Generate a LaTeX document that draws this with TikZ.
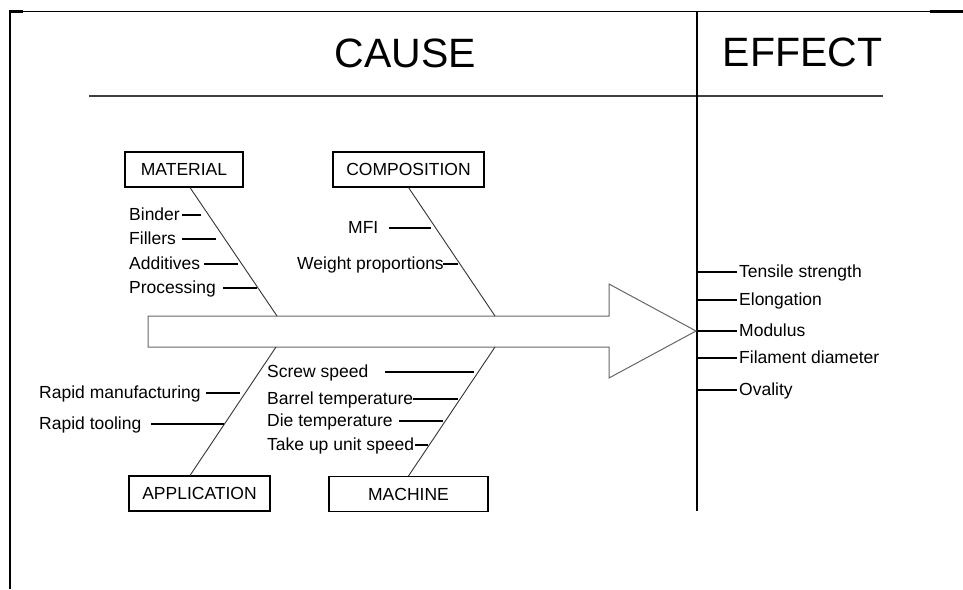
\documentclass[tikz,border=0pt]{standalone}
\usepackage{fontspec}
\setmainfont{Liberation Sans}

\begin{document}
\begin{tikzpicture}[x=1pt,y=-1pt,
		lbl/.style={anchor=west,inner sep=0pt,text height=12.5pt,text depth=2.5pt,font=\fontsize{17.5}{21}\selectfont},
		catbox/.style={draw,line width=1.1pt,inner sep=0pt,minimum height=35pt,font=\fontsize{17.5}{21}\selectfont},
		heading/.style={anchor=base,inner sep=0pt,font=\fontsize{41}{48}\selectfont},
		bone/.style={draw=black!80,line width=0.9pt},
		twig/.style={line width=1.1pt}]
		\useasboundingbox (0,0) rectangle (963,589);
		\draw[line width=2.5pt] (10,10) -- (10,589);
		\draw[line width=1pt] (10,11) -- (963,11);
		\draw[line width=2.2pt] (10,11.5) -- (23,11.5) (930,11.5) -- (963,11.5);
		\coordinate (divtop) at (697,11);
		\coordinate (divbot) at (697,511);
		\node[heading] (cause) at (405.5,67) {CAUSE};
		\node[heading] (effect) at (802.5,66) {EFFECT};
		\draw[line width=1.4pt,black!75] (89,96) -- (883,96);
		\draw[line width=1.4pt] (divtop) -- (divbot);
		\coordinate (tip) at (696,331);
		\draw[draw=black!60,line width=1pt] (148,316) -- (609,316) -- (609,284) -- (tip)
			-- (609,378) -- (609,347) -- (148,347) -- cycle;
		\coordinate (matfoot) at (277,316);
		\coordinate (compfoot) at (495,316);
		\coordinate (appfoot) at (276,347);
		\coordinate (machfoot) at (495,347);
		\node[catbox,minimum width=118pt] (mat) at (184,169.5) {MATERIAL};
		\node[catbox,minimum width=151pt] (comp) at (408.5,169.5) {COMPOSITION};
		\node[catbox,minimum width=141pt] (app) at (199.5,493.5) {APPLICATION};
		\node[catbox,minimum width=159pt] (mach) at (408.5,494) {MACHINE};
		\draw[bone] ([xshift=6pt]mat.south) -- (matfoot);
		\draw[bone] (comp.south) -- (compfoot);
		\draw[bone] ([xshift=-9.5pt]app.north) -- (appfoot);
		\draw[bone] (mach.north) -- (machfoot);
		\foreach \nm/\txt/\x/\y/\xa/\xb in {
			binder/Binder/129/215/182/201,
			fillers/Fillers/129/239/182/216,
			additives/Additives/129/264/204/238,
			processing/Processing/129/288/223/257,
			mfi/MFI/348/228/389/431,
			weight/Weight proportions/297/264/443/458,
			screw/Screw speed/267/372/385/474,
			barrel/Barrel temperature/267/399/413/458,
			die/Die temperature/267/421/399/443,
			takeup/Take up unit speed/267/445/415/428,
			rapman/Rapid manufacturing/39/393/206/240,
			raptool/Rapid tooling/39/424/151/224}{
			\node[lbl] (\nm) at (\x,\y) {\txt};
			\draw[twig] (\nm.east -| \xa,0) -- (\nm.east -| \xb,0);
		}
		\foreach \nm/\txt/\y in {tensile/Tensile strength/272,elong/Elongation/300,
			modulus/Modulus/331,diam/Filament diameter/358,ovality/Ovality/390}{
			\node[lbl] (\nm) at (739,\y) {\txt};
			\draw[twig] (\nm.west -| divtop) -- ([xshift=-2pt]\nm.west);
		}
	\end{tikzpicture}
\end{document}
